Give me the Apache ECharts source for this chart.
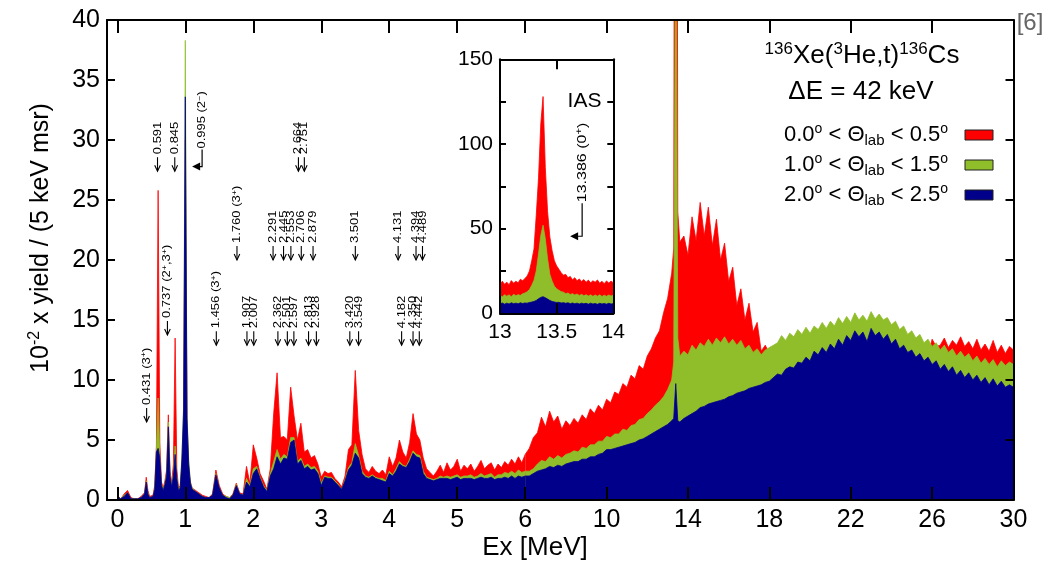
<!DOCTYPE html>
<html lang="en">
<head>
<meta charset="UTF-8">
<title>136Xe(3He,t)136Cs</title>
<script src="https://cdn.jsdelivr.net/npm/echarts@6/dist/echarts.min.js"></script>
<style>
  html, body { margin: 0; padding: 0; background: #fff; }
  #chart { width: 1059px; height: 571px; }
</style>
</head>
<body>
<div id="chart"></div>
<script type="text/javascript">
// excitation energy bins (MeV), fine below 6 MeV, coarse above
var energies = [
  0, 0.05, 0.1, 0.15, 0.2, 0.25, 0.3, 0.35, 0.4,
  0.425, 0.45, 0.475, 0.5, 0.525, 0.55, 0.575, 0.6, 0.625, 0.65,
  0.675, 0.7, 0.725, 0.75, 0.775, 0.8, 0.825, 0.85, 0.875, 0.9,
  0.925, 0.95, 0.975, 1.0, 1.025, 1.05, 1.075, 1.1,
  1.15, 1.2, 1.25, 1.3, 1.35, 1.4, 1.45, 1.5, 1.55, 1.6,
  1.65, 1.7, 1.75, 1.8, 1.85, 1.9, 1.95, 2.0, 2.05, 2.1,
  2.15, 2.2, 2.25, 2.3, 2.35, 2.4, 2.45, 2.5, 2.55, 2.6,
  2.65, 2.7, 2.75, 2.8, 2.85, 2.9, 2.95, 3.0, 3.05, 3.1,
  3.15, 3.2, 3.25, 3.3, 3.35, 3.4, 3.45, 3.5, 3.55, 3.6,
  3.65, 3.7, 3.75, 3.8, 3.85, 3.9, 3.95, 4.0, 4.05, 4.1,
  4.15, 4.2, 4.25, 4.3, 4.35, 4.4, 4.45, 4.5, 4.55, 4.6,
  4.65, 4.7, 4.75, 4.8, 4.85, 4.9, 4.95, 5.0, 5.05, 5.1,
  5.15, 5.2, 5.25, 5.3, 5.35, 5.4, 5.45, 5.5, 5.55, 5.6,
  5.65, 5.7, 5.75, 5.8, 5.85, 5.9, 5.95, 6.0,
  6.2, 6.4, 6.6, 6.8, 7.0, 7.2, 7.4, 7.6, 7.8, 8.0,
  8.2, 8.4, 8.6, 8.8, 9.0, 9.2, 9.4, 9.6, 9.8, 10.0,
  10.2, 10.4, 10.6, 10.8, 11.0, 11.2, 11.4, 11.6, 11.8, 12.0,
  12.2, 12.4, 12.6, 12.8, 13.0, 13.2, 13.3, 13.4, 13.5, 13.6,
  13.8, 14.0, 14.2, 14.4, 14.6, 14.8, 15.0, 15.2, 15.4, 15.6,
  15.8, 16.0, 16.2, 16.4, 16.6, 16.8, 17.0, 17.2, 17.4, 17.6,
  17.8, 18.0, 18.2, 18.4, 18.6, 18.8, 19.0, 19.2, 19.4, 19.6,
  19.8, 20.0, 20.2, 20.4, 20.6, 20.8, 21.0, 21.2, 21.4, 21.6,
  21.8, 22.0, 22.2, 22.4, 22.6, 22.8, 23.0, 23.2, 23.4, 23.6,
  23.8, 24.0, 24.2, 24.4, 24.6, 24.8, 25.0, 25.2, 25.4, 25.6,
  25.8, 26.0, 26.2, 26.4, 26.6, 26.8, 27.0, 27.2, 27.4, 27.6,
  27.8, 28.0, 28.2, 28.4, 28.6, 28.8, 29.0, 29.2, 29.4, 29.6,
  29.8, 30.0
];

// 0.0 < theta < 0.5 deg
var yieldRed = [
  0.4, 0.1, 0.5, 0.8, 0.2, 0.1, 0.1, 0.3, 0.6,
  1.9, 0.8, 0.3, 0.2, 0.4, 1.2, 4.5, 25.8, 4.8, 1.5,
  1.0, 1.6, 2.5, 7.1, 2.4, 1.4, 3.0, 13.5, 2.6, 1.0,
  1.2, 2.8, 6.0, 30, 6.5, 2.4, 1.5, 1.0,
  0.8, 0.6, 0.4, 0.3, 0.2, 0.5, 2.5, 1.2, 0.5, 0.3,
  0.2, 0.5, 1.4, 0.6, 0.5, 2.8, 1.4, 4.6, 3.5, 2.2,
  1.6, 0.9, 2.6, 7.2, 10.6, 5.2, 5.3, 5.0, 9.4, 7.0,
  5.0, 6.4, 4.0, 4.2, 3.5, 3.7, 3.0, 1.9, 2.4, 2.2,
  2.3, 1.8, 1.5, 1.1, 2.0, 4.2, 4.6, 10.8, 5.8, 3.8,
  2.6, 2.3, 2.8, 2.4, 2.2, 2.5, 2.1, 3.6, 2.8, 3.5,
  5.0, 4.0, 3.5, 4.8, 7.2, 5.5, 5.0, 3.5, 2.6, 2.3,
  2.0, 2.4, 2.9, 2.3, 3.1, 2.5, 2.8, 3.4, 2.4, 2.9,
  2.6, 3.0, 2.4, 2.8, 3.3, 2.6, 2.9, 3.1, 2.5, 3.0,
  2.7, 3.2, 2.9, 3.4, 3.0, 3.6, 3.1, 3.8,
  4.3, 5.2, 5.6, 6.9, 6.1, 7.4, 6.5, 7.0, 5.9, 6.6,
  6.2, 6.8, 6.4, 7.1, 6.7, 7.6, 7.2, 7.9, 7.5, 8.4,
  8.1, 9.0, 8.8, 9.7, 9.4, 10.4, 10.1, 11.2, 10.9, 12.0,
  12.6, 13.5, 14.1, 15.6, 16.8, 18.9, 21, 128, 24, 21.5,
  22.0, 20.4, 23.6, 21.6, 24.8, 22.0, 24.4, 21.2, 23.4, 20.0,
  21.4, 18.2, 19.4, 16.2, 17.6, 15.0, 16.4, 14.0, 14.8, 12.4,
  12.9, 12.2, 11.6, 11.2, 11.4, 11.6, 11.5, 11.9, 11.8, 12.1,
  12.3, 12.1, 12.5, 12.4, 12.8, 12.5, 12.9, 12.7, 13.1, 12.9,
  13.3, 13.4, 13.1, 13.7, 13.3, 13.9, 13.4, 13.8, 13.5, 13.7,
  13.4, 13.3, 12.9, 13.1, 12.5, 12.7, 12.2, 12.3, 11.9, 12.1,
  12.0, 13.4, 12.8, 12.9, 13.5, 12.7, 13.3, 12.9, 13.6, 12.8,
  13.2, 12.6, 13.4, 12.5, 13.0, 12.4, 13.3, 12.3, 12.9, 12.2,
  12.8, 12.5
];

// 1.0 < theta < 1.5 deg
var yieldGreen = [
  0.3, 0.1, 0.4, 0.6, 0.1, 0.1, 0.1, 0.2, 0.5,
  1.6, 0.6, 0.2, 0.2, 0.3, 1.0, 4.2, 8.5, 3.6, 1.3,
  0.9, 1.4, 2.2, 6.5, 2.1, 1.2, 2.2, 4.5, 2.0, 0.9,
  1.1, 3.7, 7.9, 38.3, 7.2, 3.3, 1.5, 1.0,
  0.7, 0.5, 0.3, 0.2, 0.2, 0.4, 2.2, 1.0, 0.4, 0.3,
  0.2, 0.4, 1.3, 0.5, 0.4, 1.8, 1.2, 2.6, 2.8, 1.9,
  1.2, 0.8, 2.2, 3.2, 4.2, 3.4, 3.8, 3.6, 5.2, 5.2,
  3.2, 3.5, 2.8, 3.0, 2.7, 2.8, 2.4, 1.4, 2.0, 1.9,
  1.9, 1.6, 1.3, 0.9, 1.7, 2.7, 3.1, 4.7, 3.7, 2.4,
  2.0, 1.9, 2.1, 1.9, 1.8, 1.8, 1.6, 2.4, 2.1, 2.6,
  3.2, 2.9, 2.8, 3.4, 4.1, 3.8, 3.7, 2.4, 1.9, 1.8,
  1.7, 1.8, 2.0, 1.9, 2.0, 1.9, 2.0, 2.1, 1.9, 2.0,
  2.0, 2.1, 1.9, 2.0, 2.2, 2.0, 2.1, 2.2, 1.9, 2.1,
  2.1, 2.3, 2.2, 2.4, 2.2, 2.5, 2.3, 2.4,
  2.4, 2.6, 3.0, 3.3, 3.2, 3.6, 3.4, 3.7, 3.5, 3.8,
  3.9, 4.1, 4.0, 4.4, 4.3, 4.6, 4.6, 4.9, 4.9, 5.3,
  5.2, 5.5, 5.5, 5.9, 5.8, 6.2, 6.3, 6.7, 6.8, 7.2,
  7.5, 7.9, 8.2, 8.6, 9.2, 10.0, 11.5, 52, 13.5, 12.0,
  12.4, 12.1, 12.9, 12.5, 13.1, 12.8, 13.4, 12.9, 13.5, 13.1,
  13.6, 13.0, 13.4, 12.9, 13.3, 12.6, 12.9, 12.3, 12.6, 12.1,
  12.5, 12.7, 12.9, 13.1, 13.7, 13.3, 13.9, 13.6, 14.2, 13.8,
  14.4, 13.9, 14.5, 14.2, 14.8, 14.3, 14.9, 14.5, 15.2, 14.7,
  15.3, 14.8, 15.6, 15.0, 15.4, 14.9, 15.7, 15.1, 15.5, 15.0,
  15.2, 14.6, 14.9, 14.2, 14.5, 13.8, 14.1, 13.5, 13.8, 13.1,
  13.4, 12.8, 13.1, 12.5, 12.9, 12.3, 12.6, 12.0, 12.4, 11.9,
  12.2, 11.6, 12.0, 11.4, 11.8, 11.3, 11.7, 11.1, 11.6, 11.2,
  11.5, 11.3
];

// 2.0 < theta < 2.5 deg
var yieldBlue = [
  0.3, 0.1, 0.3, 0.6, 0.1, 0.1, 0.1, 0.2, 0.5,
  1.5, 0.5, 0.2, 0.2, 0.3, 0.9, 4.0, 4.3, 3.5, 1.2,
  0.8, 1.3, 2.0, 6.1, 2.0, 1.1, 2.0, 3.8, 1.8, 0.8,
  1.0, 3.4, 7.5, 33.6, 6.8, 3.0, 1.4, 0.9,
  0.7, 0.5, 0.3, 0.2, 0.2, 0.4, 2.1, 1.0, 0.4, 0.2,
  0.1, 0.4, 1.2, 0.5, 0.4, 1.5, 1.1, 2.2, 2.6, 1.8,
  1.1, 0.7, 2.0, 2.6, 3.6, 3.0, 3.5, 3.4, 4.8, 5.0,
  3.0, 3.3, 2.6, 2.8, 2.5, 2.6, 2.2, 1.2, 1.9, 1.8,
  1.8, 1.5, 1.2, 0.9, 1.6, 2.5, 2.9, 3.9, 3.5, 2.2,
  1.9, 1.8, 2.0, 1.8, 1.7, 1.6, 1.5, 2.2, 2.0, 2.4,
  3.0, 2.8, 2.7, 3.2, 3.9, 3.6, 3.5, 2.2, 1.8, 1.7,
  1.6, 1.7, 1.8, 1.8, 1.8, 1.7, 1.8, 1.9, 1.7, 1.8,
  1.8, 1.8, 1.7, 1.8, 1.9, 1.8, 1.8, 1.9, 1.7, 1.8,
  1.8, 1.9, 1.8, 2.0, 1.8, 2.0, 1.9, 2.0,
  2.0, 2.2, 2.4, 2.5, 2.6, 2.8, 2.7, 2.9, 2.8, 3.0,
  3.1, 3.2, 3.2, 3.4, 3.4, 3.6, 3.6, 3.8, 3.9, 4.2,
  4.2, 4.3, 4.4, 4.5, 4.6, 4.7, 4.8, 5.0, 5.1, 5.3,
  5.5, 5.7, 5.9, 6.1, 6.3, 6.6, 6.8, 9.7, 6.6, 6.5,
  6.8, 7.0, 7.2, 7.4, 7.7, 7.8, 8.0, 8.1, 8.2, 8.3,
  8.4, 8.6, 8.7, 8.9, 9.0, 9.1, 9.3, 9.4, 9.5, 9.6,
  9.8, 9.9, 10.2, 10.5, 10.4, 10.9, 11.1, 11.0, 11.5, 11.4,
  11.9, 11.6, 12.4, 12.1, 12.7, 12.3, 13.0, 12.6, 13.4, 12.9,
  13.7, 13.3, 14.1, 13.6, 14.0, 13.2, 14.3, 13.7, 14.0, 13.4,
  13.8, 13.0, 13.4, 12.6, 12.9, 12.3, 12.5, 11.9, 12.2, 11.6,
  11.9, 11.3, 11.6, 10.9, 11.3, 10.7, 11.1, 10.4, 10.8, 10.2,
  10.6, 10.0, 10.4, 9.8, 10.2, 9.6, 10.1, 9.5, 9.9, 9.4,
  9.6, 9.4
];

// inset: IAS region
var iasEnergies = [
  13.00, 13.02, 13.04, 13.06, 13.08, 13.10, 13.12, 13.14, 13.16, 13.18, 13.20,
  13.22, 13.24, 13.26, 13.28, 13.30, 13.32, 13.34, 13.36, 13.38, 13.40,
  13.42, 13.44, 13.46, 13.48, 13.50, 13.52, 13.54, 13.56, 13.58, 13.60,
  13.62, 13.64, 13.66, 13.68, 13.70, 13.72, 13.74, 13.76, 13.78, 13.80,
  13.82, 13.84, 13.86, 13.88, 13.90, 13.92, 13.94, 13.96, 13.98, 14.00
];
var iasRed = [
  16.5, 19.0, 17.2, 18.4, 16.9, 19.3, 17.8, 18.9, 18.0, 20.1, 19.2,
  20.6, 22.0, 25.0, 31.0, 38.0, 58.0, 80.0, 112, 128, 86,
  60, 45, 37, 31, 28, 26, 24, 22.5, 23, 21,
  21.8, 19.8, 21.0, 19.2, 20.3, 18.8, 19.9, 18.3, 19.6, 18.0,
  19.2, 18.4, 19.7, 17.7, 18.9, 17.5, 19.1, 17.9, 19.0, 18.1
];
var iasGreen = [
  10.8, 9.6, 11.0, 10.1, 10.9, 9.8, 11.2, 10.4, 11.0, 10.6, 11.5,
  12.0, 12.8, 14.0, 16.5, 19.5, 25.0, 35.0, 46.0, 52.0, 44.0,
  32.0, 23.0, 19.0, 16.0, 14.5, 13.6, 12.8, 12.5, 11.6, 12.0,
  11.1, 11.6, 10.8, 11.4, 10.5, 11.2, 10.3, 11.0, 10.2, 10.9,
  10.0, 10.8, 10.1, 10.9, 9.9, 10.7, 10.0, 10.8, 10.2, 10.6
];
var iasBlue = [
  5.6, 6.1, 5.4, 6.0, 5.5, 6.2, 5.7, 6.0, 5.6, 6.2, 5.8,
  6.1, 6.0, 6.4, 6.6, 7.0, 7.6, 8.6, 9.4, 9.8, 9.2,
  8.4, 7.6, 7.0, 6.7, 6.4, 6.5, 6.1, 6.3, 5.9, 6.2,
  5.7, 6.1, 5.6, 6.0, 5.5, 6.0, 5.6, 5.9, 5.4, 6.0,
  5.5, 5.8, 5.3, 5.9, 5.5, 5.8, 5.4, 5.9, 5.5, 5.7
];

var lowTicks = [0, 1, 2, 3, 4, 5];
var angleBins = [['0.0', '0.5'], ['1.0', '1.5'], ['2.0', '2.5']];
var colors = ['#ff0000', '#8fbe2a', '#00008b'];

// level markers: energy, arrow-tip height, label
var levels = [
  [0.431, 6.5, '0.431 (3{s|+})'],
  [0.591, 27.4, '0.591'],
  [0.737, 13.75, '0.737 (2{s|+},3{s|+})'],
  [0.845, 27.4, '0.845'],
  [1.456, 12.9, '1.456 (3{s|+})'],
  [1.760, 20.0, '1.760 (3{s|+})'],
  [1.907, 12.9, '1.907'], [2.007, 12.9, '2.007'],
  [2.291, 20.0, '2.291'], [2.445, 20.0, '2.445'], [2.553, 20.0, '2.553'],
  [2.706, 20.0, '2.706'], [2.879, 20.0, '2.879'],
  [2.362, 12.9, '2.362'], [2.501, 12.9, '2.501'], [2.597, 12.9, '2.597'],
  [2.813, 12.9, '2.813'], [2.928, 12.9, '2.928'],
  [2.664, 27.4, '2.664'], [2.751, 27.4, '2.751'],
  [3.420, 12.9, '3.420'], [3.501, 20.0, '3.501'], [3.549, 12.9, '3.549'],
  [4.131, 20.0, '4.131'], [4.394, 20.0, '4.394'], [4.489, 20.0, '4.489'],
  [4.182, 12.9, '4.182'], [4.350, 12.9, '4.350'], [4.442, 12.9, '4.442']
];

var font = "'Liberation Sans', Arial, Helvetica, sans-serif";

function pairs(xs, ys, lo, hi) {
  var out = [];
  for (var i = 0; i < xs.length; i++) {
    if (xs[i] >= lo && xs[i] <= hi) out.push([xs[i], ys[i]]);
  }
  return out;
}

// filled spectrum; each angle bin gets its own z so later bins cover earlier ones
function area(name, color, data, xi, yi, z) {
  return {
    name: name, type: 'line', xAxisIndex: xi, yAxisIndex: yi,
    data: data, showSymbol: false, symbol: 'none', silent: true,
    lineStyle: { color: color, width: 0.8 },
    areaStyle: { color: color, opacity: 1 },
    itemStyle: { color: color },
    z: z, animation: false
  };
}

function xAxisDef(grid, pos, min, max, extra, showLabel, z, tickLen, fontSize) {
  var ax = {
    gridIndex: grid, type: 'value', position: pos, min: min, max: max, z: z,
    axisLine: { show: true, onZero: false, lineStyle: { color: '#000', width: 2 } },
    axisTick: { show: true, inside: true, length: tickLen, lineStyle: { color: '#000', width: 2 } },
    axisLabel: { show: showLabel, color: '#000', fontSize: fontSize, fontFamily: font, margin: 8 },
    splitLine: { show: false }
  };
  for (var k in extra) ax[k] = extra[k];
  return ax;
}

function yAxisDef(grid, pos, max, interval, showLabel, z, tickLen, fontSize) {
  return {
    gridIndex: grid, type: 'value', min: 0, max: max, interval: interval, position: pos, z: z,
    axisLine: { show: true, onZero: false, lineStyle: { color: '#000', width: 2 } },
    axisTick: { show: true, inside: true, length: tickLen, lineStyle: { color: '#000', width: 2 } },
    axisLabel: {
      show: showLabel, color: '#000', fontSize: fontSize, fontFamily: font, margin: 7,
      formatter: function (v) { return (max > 100 && v % 50 !== 0) ? '' : String(v); }
    },
    splitLine: { show: false }
  };
}

var chart = echarts.init(document.getElementById('chart'));

var series = [];
var sets = [yieldRed, yieldGreen, yieldBlue];
var iasSets = [iasRed, iasGreen, iasBlue];
for (var s = 0; s < 3; s++) {
  series.push(area('low' + s, colors[s], pairs(energies, sets[s], -1, 6), 0, 0, 1 + s));
  series.push(area('high' + s, colors[s], pairs(energies, sets[s], 6, 30), 2, 1, 1 + s));
  series.push(area('ias' + s, colors[s], pairs(iasEnergies, iasSets[s], 13, 14), 4, 2, 6 + s));
}

var lowX = xAxisDef(0, 'bottom', -0.152, 6, {}, true, 4, 13, 25);
lowX.axisTick.customValues = lowTicks;
lowX.axisLabel.customValues = lowTicks;
var lowXTop = xAxisDef(0, 'top', -0.152, 6, {}, false, 4, 13, 25);
lowXTop.axisTick.customValues = lowTicks;

chart.setOption({
  animation: false,
  grid: [
    { left: 107, top: 20, width: 418.2, height: 480, outerBoundsMode: 'none' },
    { left: 525.2, top: 20, width: 488.3, height: 480, outerBoundsMode: 'none' },
    { left: 500, top: 59.3, width: 113.3, height: 254, show: true, backgroundColor: '#fff',
      borderWidth: 0, z: 5, outerBoundsMode: 'none' }
  ],
  xAxis: [
    lowX,
    lowXTop,
    xAxisDef(1, 'bottom', 6, 30, { interval: 4 }, true, 4, 13, 25),
    xAxisDef(1, 'top', 6, 30, { interval: 4 }, false, 4, 13, 25),
    xAxisDef(2, 'bottom', 13, 14, { interval: 0.5 }, true, 10, 10, 21),
    xAxisDef(2, 'top', 13, 14, { interval: 0.5 }, false, 10, 10, 21)
  ],
  yAxis: [
    yAxisDef(0, 'left', 40, 5, true, 4, 8, 25),
    yAxisDef(1, 'right', 40, 5, false, 4, 8, 25),
    yAxisDef(2, 'left', 150, 25, true, 10, 6, 21),
    yAxisDef(2, 'right', 150, 25, false, 10, 6, 21)
  ],
  series: series
});

// annotations, legend, titles
var g = [];
var supStyle = { fontSize: 9, lineHeight: 9, verticalAlign: 'top', fill: '#000', fontFamily: font };

levels.forEach(function (d) {
  var p = chart.convertToPixel({ gridIndex: 0 }, [d[0], d[1]]);
  var x = p[0], y = p[1];
  g.push({
    type: 'polyline', z: 20, silent: true,
    shape: { points: [[x, y - 14], [x, y]] },
    style: { stroke: '#000', lineWidth: 1.1, fill: null }
  });
  g.push({
    type: 'polyline', z: 20, silent: true,
    shape: { points: [[x - 2.8, y - 6], [x, y], [x + 2.8, y - 6]] },
    style: { stroke: '#000', lineWidth: 1.1, fill: null }
  });
  g.push({
    type: 'text', x: x, y: y - 17, rotation: Math.PI / 2, scaleY: 0.85, z: 20, silent: true,
    style: {
      text: d[2], fontSize: 13, fontFamily: font, fill: '#000',
      align: 'left', verticalAlign: 'middle', lineHeight: 15, rich: { s: supStyle }
    }
  });
});

// bent arrows: energy, y, label, grid, drop, run, font size
var bent = [
  [1.247, 29.2, '0.995 (2{s|\u2212})', 0, 17, 10, 13],
  [13.725, 65, '13.386 (0{s|+})', 2, 33, 12, 16]
];
bent.forEach(function (d) {
  var p = chart.convertToPixel({ gridIndex: d[3] }, [d[0], d[1]]);
  var x0 = p[0], y0 = p[1], drop = d[4], run = d[5], fs = d[6];
  g.push({
    type: 'text', x: x0, y: y0 - 1, rotation: Math.PI / 2, scaleY: 0.85, z: 20, silent: true,
    style: {
      text: d[2], fontSize: fs, fontFamily: font, fill: '#000', align: 'left',
      verticalAlign: 'middle', lineHeight: fs + 2,
      rich: { s: { fontSize: fs * 0.7, lineHeight: fs * 0.7, verticalAlign: 'top', fill: '#000', fontFamily: font } }
    }
  });
  g.push({
    type: 'polyline', z: 20, silent: true,
    shape: { points: [[x0, y0], [x0, y0 + drop], [x0 - run + 5, y0 + drop]] },
    style: { stroke: '#000', lineWidth: 1.2, fill: null }
  });
  g.push({
    type: 'polygon', z: 20, silent: true,
    shape: { points: [[x0 - run, y0 + drop], [x0 - run + 8, y0 + drop - 4], [x0 - run + 8, y0 + drop + 4]] },
    style: { fill: '#000' }
  });
});

var ias = chart.convertToPixel({ gridIndex: 2 }, [13.746, 125]);
g.push({
  type: 'text', x: ias[0], y: ias[1], z: 20, silent: true,
  style: { text: 'IAS', fontSize: 21, fontFamily: font, fill: '#000', align: 'center', verticalAlign: 'middle' }
});

// reaction title
g.push({
  type: 'text', x: 862, y: 56, z: 20, silent: true,
  style: {
    text: '{s|136}{n|Xe(}{s|3}{n|He,t)}{s|136}{n|Cs}', align: 'center', verticalAlign: 'middle',
    rich: {
      n: { fontSize: 26, lineHeight: 30, fontFamily: font, fill: '#000' },
      s: { fontSize: 17, lineHeight: 17, verticalAlign: 'top', fontFamily: font, fill: '#000' }
    }
  }
});
g.push({
  type: 'text', x: 861, y: 92, z: 20, silent: true,
  style: { text: '\u0394E = 42 keV', fontSize: 26, fontFamily: font, fill: '#000', align: 'center', verticalAlign: 'middle' }
});
g.push({
  type: 'text', x: 1030, y: 23, z: 20, silent: true,
  style: { text: '[6]', fontSize: 24, fontFamily: font, fill: '#666', align: 'center', verticalAlign: 'middle' }
});

// legend rows
angleBins.forEach(function (b, i) {
  var cy = 135 + i * 30;
  g.push({
    type: 'text', x: 948, y: cy, z: 20, silent: true,
    style: {
      text: '{n|' + b[0] + '}{s|o}{n| < \u0398}{b|lab}{n| < ' + b[1] + '}{s|o}',
      align: 'right', verticalAlign: 'middle',
      rich: {
        n: { fontSize: 22, lineHeight: 26, fontFamily: font, fill: '#000' },
        s: { fontSize: 14, lineHeight: 14, verticalAlign: 'top', fontFamily: font, fill: '#000' },
        b: { fontSize: 15, lineHeight: 15, verticalAlign: 'bottom', fontFamily: font, fill: '#000' }
      }
    }
  });
  g.push({
    type: 'rect', z: 20, silent: true,
    shape: { x: 965, y: cy - 5, width: 28, height: 10 },
    style: { fill: colors[i], stroke: '#222', lineWidth: 1 }
  });
});

// axis titles
g.push({
  type: 'text', x: 41, y: 238, rotation: Math.PI / 2, z: 20, silent: true,
  style: {
    text: '{n|10}{s|-2}{n| x yield / (5 keV msr)}', align: 'center', verticalAlign: 'middle',
    rich: {
      n: { fontSize: 25, lineHeight: 28, fontFamily: font, fill: '#000' },
      s: { fontSize: 16, lineHeight: 16, verticalAlign: 'top', fontFamily: font, fill: '#000' }
    }
  }
});
g.push({
  type: 'text', x: 535, y: 548, z: 20, silent: true,
  style: { text: 'Ex [MeV]', fontSize: 26, fontFamily: font, fill: '#000', align: 'center', verticalAlign: 'middle' }
});

chart.setOption({ graphic: g });
</script>
</body>
</html>
